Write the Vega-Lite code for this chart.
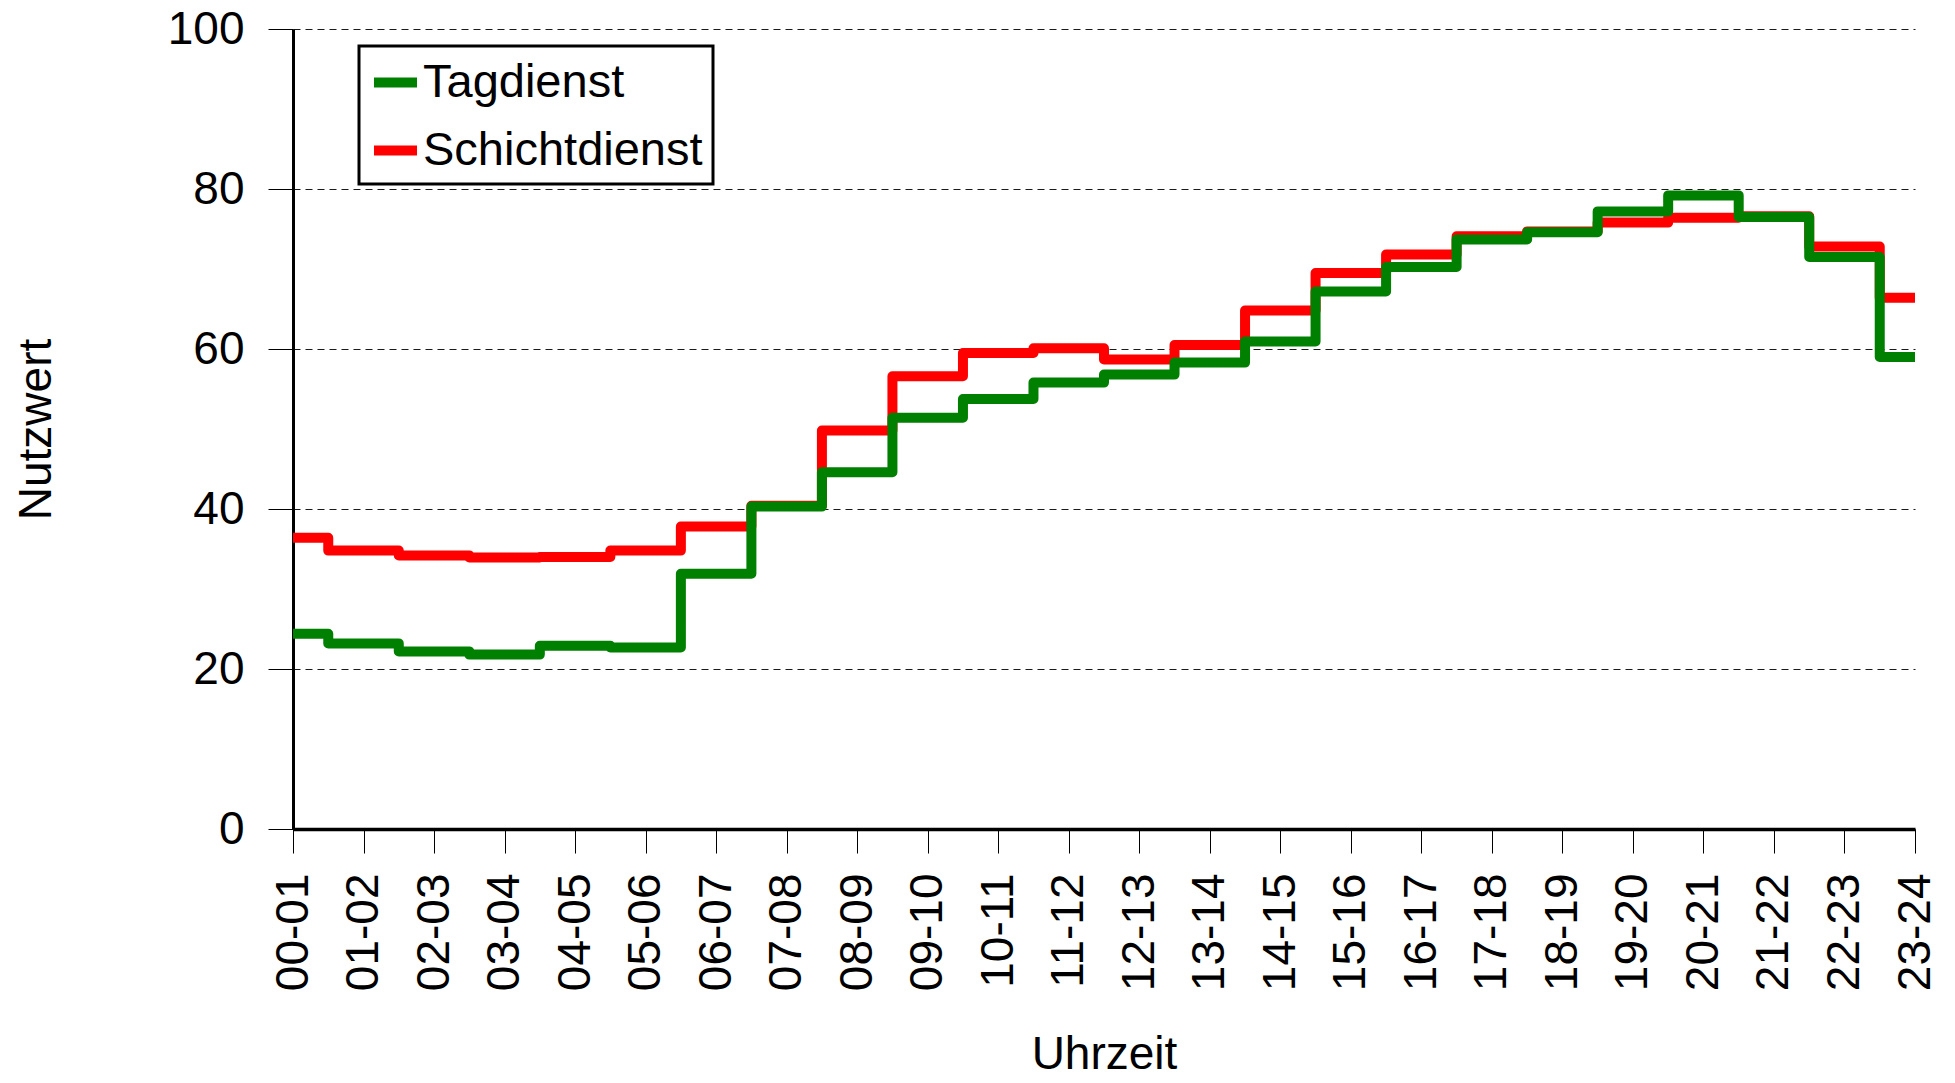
{
  "$schema": "https://vega.github.io/schema/vega-lite/v6.json",
  "width": 1622,
  "height": 800,
  "autosize": {"type": "none"},
  "padding": {"left": 293, "top": 29, "right": 40, "bottom": 254},
  "background": "white",
  "config": {"view": {"stroke": null}, "font": "Liberation Sans"},
  "data": {
    "values": [
      {"uhrzeit": "00-01", "dienst": "Tagdienst", "wert": 24.4},
      {"uhrzeit": "01-02", "dienst": "Tagdienst", "wert": 23.2},
      {"uhrzeit": "02-03", "dienst": "Tagdienst", "wert": 22.2},
      {"uhrzeit": "03-04", "dienst": "Tagdienst", "wert": 21.8},
      {"uhrzeit": "04-05", "dienst": "Tagdienst", "wert": 22.9},
      {"uhrzeit": "05-06", "dienst": "Tagdienst", "wert": 22.7},
      {"uhrzeit": "06-07", "dienst": "Tagdienst", "wert": 31.9},
      {"uhrzeit": "07-08", "dienst": "Tagdienst", "wert": 40.3},
      {"uhrzeit": "08-09", "dienst": "Tagdienst", "wert": 44.6},
      {"uhrzeit": "09-10", "dienst": "Tagdienst", "wert": 51.4},
      {"uhrzeit": "10-11", "dienst": "Tagdienst", "wert": 53.75},
      {"uhrzeit": "11-12", "dienst": "Tagdienst", "wert": 55.8},
      {"uhrzeit": "12-13", "dienst": "Tagdienst", "wert": 56.8},
      {"uhrzeit": "13-14", "dienst": "Tagdienst", "wert": 58.3},
      {"uhrzeit": "14-15", "dienst": "Tagdienst", "wert": 60.95},
      {"uhrzeit": "15-16", "dienst": "Tagdienst", "wert": 67.2},
      {"uhrzeit": "16-17", "dienst": "Tagdienst", "wert": 70.25},
      {"uhrzeit": "17-18", "dienst": "Tagdienst", "wert": 73.7},
      {"uhrzeit": "18-19", "dienst": "Tagdienst", "wert": 74.6},
      {"uhrzeit": "19-20", "dienst": "Tagdienst", "wert": 77.2},
      {"uhrzeit": "20-21", "dienst": "Tagdienst", "wert": 79.2},
      {"uhrzeit": "21-22", "dienst": "Tagdienst", "wert": 76.5},
      {"uhrzeit": "22-23", "dienst": "Tagdienst", "wert": 71.5},
      {"uhrzeit": "23-24", "dienst": "Tagdienst", "wert": 59.0},
      {"uhrzeit": "00-01", "dienst": "Schichtdienst", "wert": 36.4},
      {"uhrzeit": "01-02", "dienst": "Schichtdienst", "wert": 34.8},
      {"uhrzeit": "02-03", "dienst": "Schichtdienst", "wert": 34.2},
      {"uhrzeit": "03-04", "dienst": "Schichtdienst", "wert": 33.95},
      {"uhrzeit": "04-05", "dienst": "Schichtdienst", "wert": 34.0},
      {"uhrzeit": "05-06", "dienst": "Schichtdienst", "wert": 34.8},
      {"uhrzeit": "06-07", "dienst": "Schichtdienst", "wert": 37.8},
      {"uhrzeit": "07-08", "dienst": "Schichtdienst", "wert": 40.4},
      {"uhrzeit": "08-09", "dienst": "Schichtdienst", "wert": 49.8},
      {"uhrzeit": "09-10", "dienst": "Schichtdienst", "wert": 56.6},
      {"uhrzeit": "10-11", "dienst": "Schichtdienst", "wert": 59.5},
      {"uhrzeit": "11-12", "dienst": "Schichtdienst", "wert": 60.1},
      {"uhrzeit": "12-13", "dienst": "Schichtdienst", "wert": 58.7},
      {"uhrzeit": "13-14", "dienst": "Schichtdienst", "wert": 60.5},
      {"uhrzeit": "14-15", "dienst": "Schichtdienst", "wert": 64.8},
      {"uhrzeit": "15-16", "dienst": "Schichtdienst", "wert": 69.5},
      {"uhrzeit": "16-17", "dienst": "Schichtdienst", "wert": 71.8},
      {"uhrzeit": "17-18", "dienst": "Schichtdienst", "wert": 74.1},
      {"uhrzeit": "18-19", "dienst": "Schichtdienst", "wert": 74.7},
      {"uhrzeit": "19-20", "dienst": "Schichtdienst", "wert": 75.8},
      {"uhrzeit": "20-21", "dienst": "Schichtdienst", "wert": 76.4},
      {"uhrzeit": "21-22", "dienst": "Schichtdienst", "wert": 76.6},
      {"uhrzeit": "22-23", "dienst": "Schichtdienst", "wert": 72.8},
      {"uhrzeit": "23-24", "dienst": "Schichtdienst", "wert": 66.4}
    ]
  },
  "encoding": {
    "x": {
      "field": "uhrzeit",
      "type": "ordinal",
      "sort": null,
      "scale": {"type": "point", "padding": 0},
      "axis": {
        "title": "Uhrzeit",
        "titleFont": "Liberation Sans",
        "titleFontSize": 46,
        "titleFontWeight": "normal",
        "titleColor": "black",
        "titleX": 811,
        "titleY": 225,
        "titleAlign": "center",
        "titleBaseline": "middle",
        "labelAngle": -90,
        "labelFont": "Liberation Sans",
        "labelFontSize": 46,
        "labelColor": "black",
        "labelPadding": 20,
        "labelOverlap": false,
        "labelBound": false,
        "labelFlush": false,
        "tickSize": 24,
        "tickColor": "black",
        "tickWidth": 1,
        "domainColor": "black",
        "domainWidth": 3.5,
        "grid": false
      }
    },
    "y": {
      "field": "wert",
      "type": "quantitative",
      "scale": {"domain": [0, 100], "nice": false, "zero": true},
      "axis": {
        "title": "Nutzwert",
        "titleFont": "Liberation Sans",
        "titleFontSize": 46,
        "titleFontWeight": "normal",
        "titleColor": "black",
        "titleAngle": -90,
        "titleX": -257,
        "titleY": 400,
        "titleAlign": "center",
        "titleBaseline": "middle",
        "values": [0, 20, 40, 60, 80, 100],
        "labelFont": "Liberation Sans",
        "labelFontSize": 46,
        "labelColor": "black",
        "labelPadding": 24,
        "labelFlush": false,
        "labelBound": false,
        "tickSize": 25,
        "tickColor": "black",
        "tickWidth": 1,
        "domainColor": "black",
        "domainWidth": 3,
        "grid": true,
        "gridColor": "black",
        "gridWidth": 1,
        "gridDash": [7, 5],
        "gridOpacity": 0.9
      }
    },
    "color": {
      "field": "dienst",
      "type": "nominal",
      "scale": {"domain": ["Tagdienst", "Schichtdienst"], "range": ["#008000", "#ff0000"]},
      "legend": {
        "title": null,
        "orient": "none",
        "legendX": 66,
        "legendY": 17,
        "symbolType": "stroke",
        "symbolSize": 1849,
        "symbolStrokeWidth": 10,
        "labelFont": "Liberation Sans",
        "labelFontSize": 47,
        "labelColor": "black",
        "labelOffset": 1,
        "labelLimit": 0,
        "rowPadding": 18,
        "padding": 10,
        "strokeColor": "black",
        "fillColor": "white",
        "encode": {"legend": {"update": {"strokeWidth": {"value": 3}}}}
      }
    }
  },
  "layer": [
    {
      "transform": [{"filter": "datum.dienst === 'Schichtdienst'"}],
      "mark": {"type": "line", "interpolate": "step", "strokeWidth": 10, "strokeJoin": "round", "strokeCap": "butt"}
    },
    {
      "transform": [{"filter": "datum.dienst === 'Tagdienst'"}],
      "mark": {"type": "line", "interpolate": "step", "strokeWidth": 10, "strokeJoin": "round", "strokeCap": "butt"}
    }
  ]
}
